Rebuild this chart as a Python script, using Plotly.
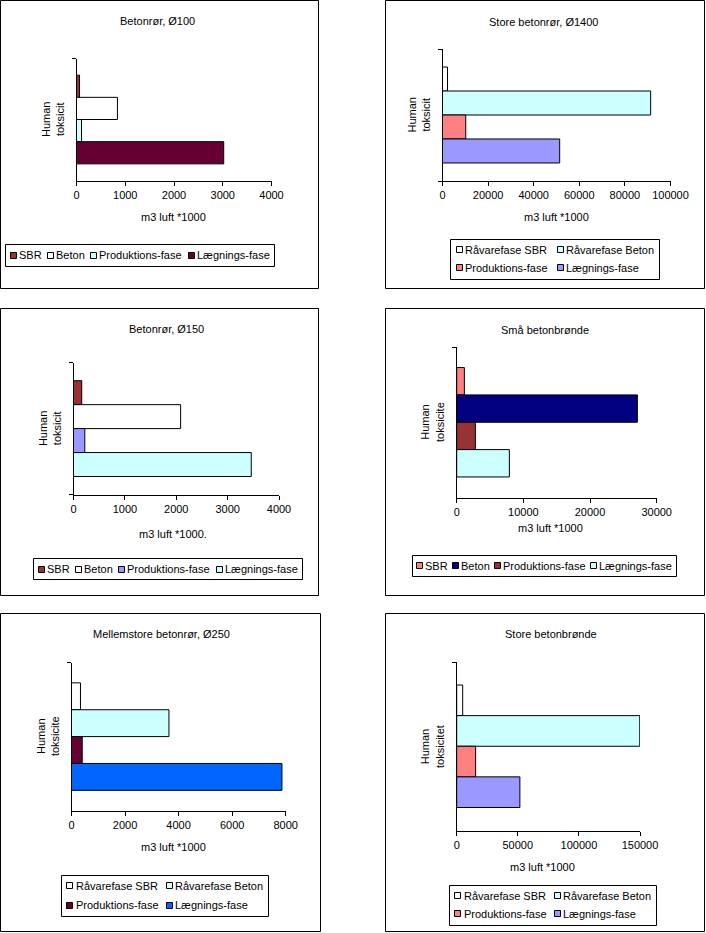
import plotly.graph_objects as go

W, H = 706, 933
FONT = "Liberation Sans, Arial, sans-serif"
FS = 11

# ---------------- data ----------------
chart_titles = ["Betonrør, Ø100", "Store betonrør, Ø1400", "Betonrør, Ø150",
                "Små betonbrønde", "Mellemstore betonrør, Ø250", "Store betonbrønde"]
category_labels = ["Human toksicit", "Human toksicit", "Human toksicit",
                   "Human toksicite", "Human toksicite", "Human toksicitet"]
x_axis_titles = ["m3 luft *1000", "m3 luft *1000", "m3 luft *1000.",
                 "m3 luft *1000", "m3 luft *1000", "m3 luft *1000"]
series_names_a = ["SBR", "Beton", "Produktions-fase", "Lægnings-fase"]
series_names_b = ["Råvarefase SBR", "Råvarefase Beton", "Produktions-fase", "Lægnings-fase"]

values_beton100 = [62, 840, 103, 3020]
values_beton1400 = [2200, 91300, 10200, 51400]
values_beton150 = [160, 2085, 220, 3460]
values_smaa_broende = [1150, 27100, 2800, 7900]
values_beton250 = [335, 3640, 400, 7860]
values_store_broende = [4900, 149800, 15500, 51700]

x_max = [4000, 100000, 4000, 30000, 8000, 150000]
x_step = [1000, 20000, 1000, 10000, 2000, 50000]

panel_values = [values_beton100, values_beton1400, values_beton150,
                values_smaa_broende, values_beton250, values_store_broende]
panel_series = [series_names_a, series_names_b, series_names_a,
                series_names_a, series_names_b, series_names_b]

# ---------------- styles ----------------
panel_colors = [
    ["#993333", "#FFFFFF", "#CCFFFF", "#660033"],
    ["#FFFFFF", "#CCFFFF", "#FF8080", "#9999FF"],
    ["#993333", "#FFFFFF", "#9999FF", "#CCFFFF"],
    ["#FF8080", "#000080", "#993333", "#CCFFFF"],
    ["#FFFFFF", "#CCFFFF", "#660033", "#0066FF"],
    ["#FFFFFF", "#CCFFFF", "#FF8080", "#9999FF"],
]

# layout in page pixels
panel_layout = [
    dict(box=(0.5, 0.5, 318.5, 288.5), plot=(76.5, 271.5, 58.5, 180.5), title=(157, 21),
         xtitle=(173, 217), leg_box=(5.5, 244.5, 274.5, 266.5), leg_cols=4, leg_rows=(255.5,)),
    dict(box=(385.5, 0.5, 704.5, 288.5), plot=(442.5, 670.5, 49, 181), title=(543, 22),
         xtitle=(556, 217), leg_box=(450.5, 239.5, 659.5, 279.5), leg_cols=2, leg_rows=(250, 268)),
    dict(box=(0.5, 308.5, 318.5, 595.5), plot=(73.5, 279, 362.7, 494.5), title=(166, 329),
         xtitle=(173, 534), leg_box=(33.5, 558.5, 302.5, 579.5), leg_cols=4, leg_rows=(569,)),
    dict(box=(385.5, 308.5, 704.5, 595.5), plot=(456.7, 656.7, 347, 497.5), title=(544.5, 330),
         xtitle=(550, 528), leg_box=(412.5, 555.5, 676.5, 576.5), leg_cols=4, leg_rows=(566,)),
    dict(box=(0.5, 613.5, 320.5, 931.5), plot=(71.5, 285.7, 662.7, 810.5), title=(161, 634),
         xtitle=(173, 847), leg_box=(61.5, 875.5, 268.5, 916.5), leg_cols=2, leg_rows=(886, 905)),
    dict(box=(385.5, 613.5, 704.5, 931.5), plot=(456.7, 640, 662, 830.5), title=(550.5, 634),
         xtitle=(542, 867), leg_box=(449.5, 885.5, 656.5, 925.5), leg_cols=2, leg_rows=(896, 914)),
]

# Arial / Liberation Sans advance widths (per 1000 em)
CW = {" ": 278, "-": 333, "B": 667, "L": 556, "P": 667, "R": 722, "S": 667,
      "a": 556, "d": 556, "e": 556, "f": 278, "g": 556, "i": 222, "k": 500,
      "n": 556, "o": 556, "r": 333, "s": 500, "t": 278, "u": 556, "v": 500,
      "å": 556, "æ": 889}
SW = 7      # legend swatch size
STX = 10    # swatch-left to text-left


def text_w(s):
    return sum(CW.get(c, 556) for c in s) * FS / 1000.0


def px(x):
    return x / W


def py(y):
    return 1 - y / H


fig = go.Figure()
shapes = []
annotations = []
layout_axes = {}

for i in range(6):
    n = i + 1
    sfx = "" if n == 1 else str(n)
    L = panel_layout[i]
    vals = panel_values[i]
    names = panel_series[i]
    cols = panel_colors[i]

    for j in range(4):
        fig.add_trace(go.Bar(
            x=[vals[j]], y=[category_labels[i]], orientation="h", name=names[j],
            marker=dict(color=cols[j], line=dict(color="black", width=1)),
            xaxis="x" + sfx, yaxis="y" + sfx, showlegend=False, hoverinfo="skip"))

    x0, x1, y0, y1 = L["plot"]
    layout_axes["xaxis" + sfx] = dict(
        domain=[px(x0), px(x1)], range=[0, x_max[i]], tickmode="linear", tick0=0,
        dtick=x_step[i], ticks="outside", ticklen=4, tickcolor="black",
        showline=True, linecolor="black", linewidth=1, showgrid=False, zeroline=False,
        tickformat="d", automargin=False,
        tickfont=dict(family=FONT, size=FS, color="black"), anchor="y" + sfx,
        fixedrange=True)
    layout_axes["yaxis" + sfx] = dict(
        domain=[py(y1), py(y0)], type="category", autorange="reversed",
        showticklabels=False, ticks="outside", tickson="boundaries", ticklen=4,
        tickcolor="black", showline=True, linecolor="black", linewidth=1,
        showgrid=False, zeroline=False, anchor="x" + sfx, fixedrange=True,
        automargin=False)

    # panel border
    bx0, by0, bx1, by1 = L["box"]
    shapes.append(dict(type="rect", xref="paper", yref="paper",
                       x0=px(bx0), x1=px(bx1), y0=py(by1), y1=py(by0),
                       line=dict(color="black", width=1), fillcolor="rgba(0,0,0,0)"))

    # chart title
    tx, ty = L["title"]
    annotations.append(dict(text=chart_titles[i], x=px(tx), y=py(ty), xref="paper", yref="paper",
                            xanchor="center", yanchor="middle", showarrow=False,
                            font=dict(family=FONT, size=FS, color="black")))
    # x-axis title
    ax_, ay_ = L["xtitle"]
    annotations.append(dict(text=x_axis_titles[i], x=px(ax_), y=py(ay_), xref="paper", yref="paper",
                            xanchor="center", yanchor="middle", showarrow=False,
                            font=dict(family=FONT, size=FS, color="black")))
    # category label (rotated, left of axis)
    annotations.append(dict(text="<br>".join(category_labels[i].split(" ")),
                            x=0, y=0.5, xref="x" + sfx + " domain", yref="y" + sfx + " domain",
                            xshift=-24, textangle=-90, xanchor="center", yanchor="middle",
                            showarrow=False, align="center",
                            font=dict(family=FONT, size=FS, color="black")))

    # legend
    lx0, ly0, lx1, ly1 = L["leg_box"]
    shapes.append(dict(type="rect", xref="paper", yref="paper",
                       x0=px(lx0), x1=px(lx1), y0=py(ly1), y1=py(ly0),
                       line=dict(color="black", width=1), fillcolor="white"))
    entries = []
    if L["leg_cols"] == 4:
        pad = 4
        content = sum(STX + text_w(s) for s in names)
        gap = (lx1 - lx0 - 2 * pad - content) / 3.0
        x = lx0 + pad
        for j in range(4):
            entries.append((x, L["leg_rows"][0], j))
            x = x + STX + text_w(names[j]) + gap
    else:
        c1 = lx0 + 5
        c2 = lx1 - 4 - (STX + max(text_w(names[1]), text_w(names[3])))
        entries = [(c1, L["leg_rows"][0], 0), (c2, L["leg_rows"][0], 1),
                   (c1, L["leg_rows"][1], 2), (c2, L["leg_rows"][1], 3)]
    for (ex, ey, j) in entries:
        sx0 = round(ex) + 0.5
        sy0 = round(ey - SW / 2.0) + 0.5
        shapes.append(dict(type="rect", xref="paper", yref="paper",
                           x0=px(sx0), x1=px(sx0 + SW - 1), y0=py(sy0 + SW - 1), y1=py(sy0),
                           line=dict(color="black", width=1), fillcolor=cols[j]))
        annotations.append(dict(text=names[j], x=px(ex + STX - 1), y=py(ey), xref="paper", yref="paper",
                                xanchor="left", yanchor="middle", showarrow=False, borderpad=0,
                                borderwidth=0,
                                font=dict(family=FONT, size=FS, color="black")))

fig.update_layout(
    width=W, height=H, autosize=False, margin=dict(l=0, r=0, t=0, b=0, pad=0, autoexpand=False),
    paper_bgcolor="white", plot_bgcolor="white",
    barmode="group", bargap=0.273, bargroupgap=0,
    font=dict(family=FONT, size=FS, color="black"),
    showlegend=False, shapes=shapes, annotations=annotations,
    **layout_axes)

fig.write_html("out.html", config={"displayModeBar": False, "responsive": False},
               post_script="document.body.style.margin='0';document.body.style.overflow='hidden';")
